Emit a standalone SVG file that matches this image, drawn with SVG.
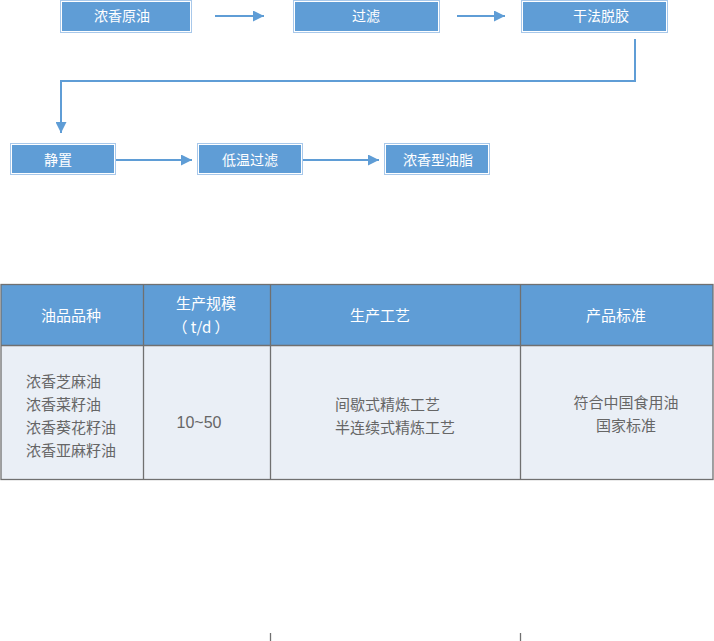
<svg xmlns="http://www.w3.org/2000/svg" width="714" height="641" viewBox="0 0 714 641">
<style>
.bo{fill:#ffffff;stroke:#a8c8ea;stroke-width:1}
.bi{fill:#5f9dd6}
.bt{font-family:"Noto Sans CJK SC","Liberation Sans",sans-serif;font-size:14px;fill:#ffffff;text-anchor:middle}
.ln{fill:none;stroke:#5f9dd6;stroke-width:2}
.hd{fill:#5f9dd6}
.bd{fill:#eaeff6}
.gl{stroke:#707070;stroke-width:1.3;fill:none}
.ht{font-family:"Noto Sans CJK SC","Liberation Sans",sans-serif;font-size:15px;fill:#ffffff;text-anchor:middle}
.tt{font-family:"Noto Sans CJK SC","Liberation Sans",sans-serif;font-size:15px;fill:#666666}
</style>
<defs>
<marker id="ah" viewBox="0 0 10 10" refX="10" refY="5" markerWidth="5.5" markerHeight="5.5" orient="auto" markerUnits="strokeWidth">
<path d="M0,0 L10,5 L0,10 z" fill="#5f9dd6"/>
</marker>
</defs>
<rect width="714" height="641" fill="#ffffff"/>
<g id="connectors">
<line class="ln" x1="215" y1="16" x2="264" y2="16" marker-end="url(#ah)"/>
<line class="ln" x1="457" y1="16" x2="505" y2="16" marker-end="url(#ah)"/>
<polyline class="ln" points="635,39 635,81 61,81 61,133" marker-end="url(#ah)"/>
<line class="ln" x1="116" y1="160" x2="192" y2="160" marker-end="url(#ah)"/>
<line class="ln" x1="303" y1="160" x2="379" y2="160" marker-end="url(#ah)"/>
</g>
<g id="n1"><rect class="bo" x="60.5" y="0.5" width="131" height="32"/><rect class="bi" x="62" y="2" width="128" height="29"/><text class="bt" x="122" y="21">浓香原油</text></g>
<g id="n2"><rect class="bo" x="293.5" y="0.5" width="146" height="32"/><rect class="bi" x="295" y="2" width="143" height="29"/><text class="bt" x="366" y="21">过滤</text></g>
<g id="n3"><rect class="bo" x="521.5" y="0.5" width="146" height="32"/><rect class="bi" x="523" y="2" width="143" height="29"/><text class="bt" x="601" y="21">干法脱胶</text></g>
<g id="n4"><rect class="bo" x="10.5" y="143.5" width="105" height="31"/><rect class="bi" x="12" y="145" width="102" height="28"/><text class="bt" x="58" y="165">静置</text></g>
<g id="n5"><rect class="bo" x="197.5" y="143.5" width="105" height="31"/><rect class="bi" x="199" y="145" width="102" height="28"/><text class="bt" x="250" y="165">低温过滤</text></g>
<g id="n6"><rect class="bo" x="384.5" y="143.5" width="105" height="31"/><rect class="bi" x="386" y="145" width="102" height="28"/><text class="bt" x="438" y="165">浓香型油脂</text></g>
<g id="table">
<rect class="hd" x="1" y="284" width="712" height="61"/>
<rect class="bd" x="1" y="345" width="712" height="135"/>
<rect class="gl" x="1" y="284.5" width="712" height="195"/>
<line class="gl" x1="1" y1="345.5" x2="713" y2="345.5"/>
<line class="gl" x1="143.5" y1="284" x2="143.5" y2="480"/>
<line class="gl" x1="270.5" y1="284" x2="270.5" y2="480"/>
<line class="gl" x1="520.5" y1="284" x2="520.5" y2="480"/>
<text class="ht" x="71" y="321">油品品种</text>
<text class="ht" x="206" y="309">生产规模</text>
<text class="ht" x="201" y="333">（ t/d ）</text>
<text class="ht" x="380" y="321">生产工艺</text>
<text class="ht" x="616" y="321">产品标准</text>
<text class="tt" x="26" y="387">浓香芝麻油</text>
<text class="tt" x="26" y="410">浓香菜籽油</text>
<text class="tt" x="26" y="433">浓香葵花籽油</text>
<text class="tt" x="26" y="456">浓香亚麻籽油</text>
<text x="199" y="428" text-anchor="middle" font-family="Liberation Sans,Arial,sans-serif" font-size="16" fill="#666666">10~50</text>
<text class="tt" x="335" y="410">间歇式精炼工艺</text>
<text class="tt" x="335" y="433">半连续式精炼工艺</text>
<text class="tt" x="626" y="408" text-anchor="middle">符合中国食用油</text>
<text class="tt" x="626" y="431" text-anchor="middle">国家标准</text>
<line class="gl" x1="270.5" y1="633" x2="270.5" y2="641"/>
<line class="gl" x1="520.5" y1="633" x2="520.5" y2="641"/>
</g>
</svg>
